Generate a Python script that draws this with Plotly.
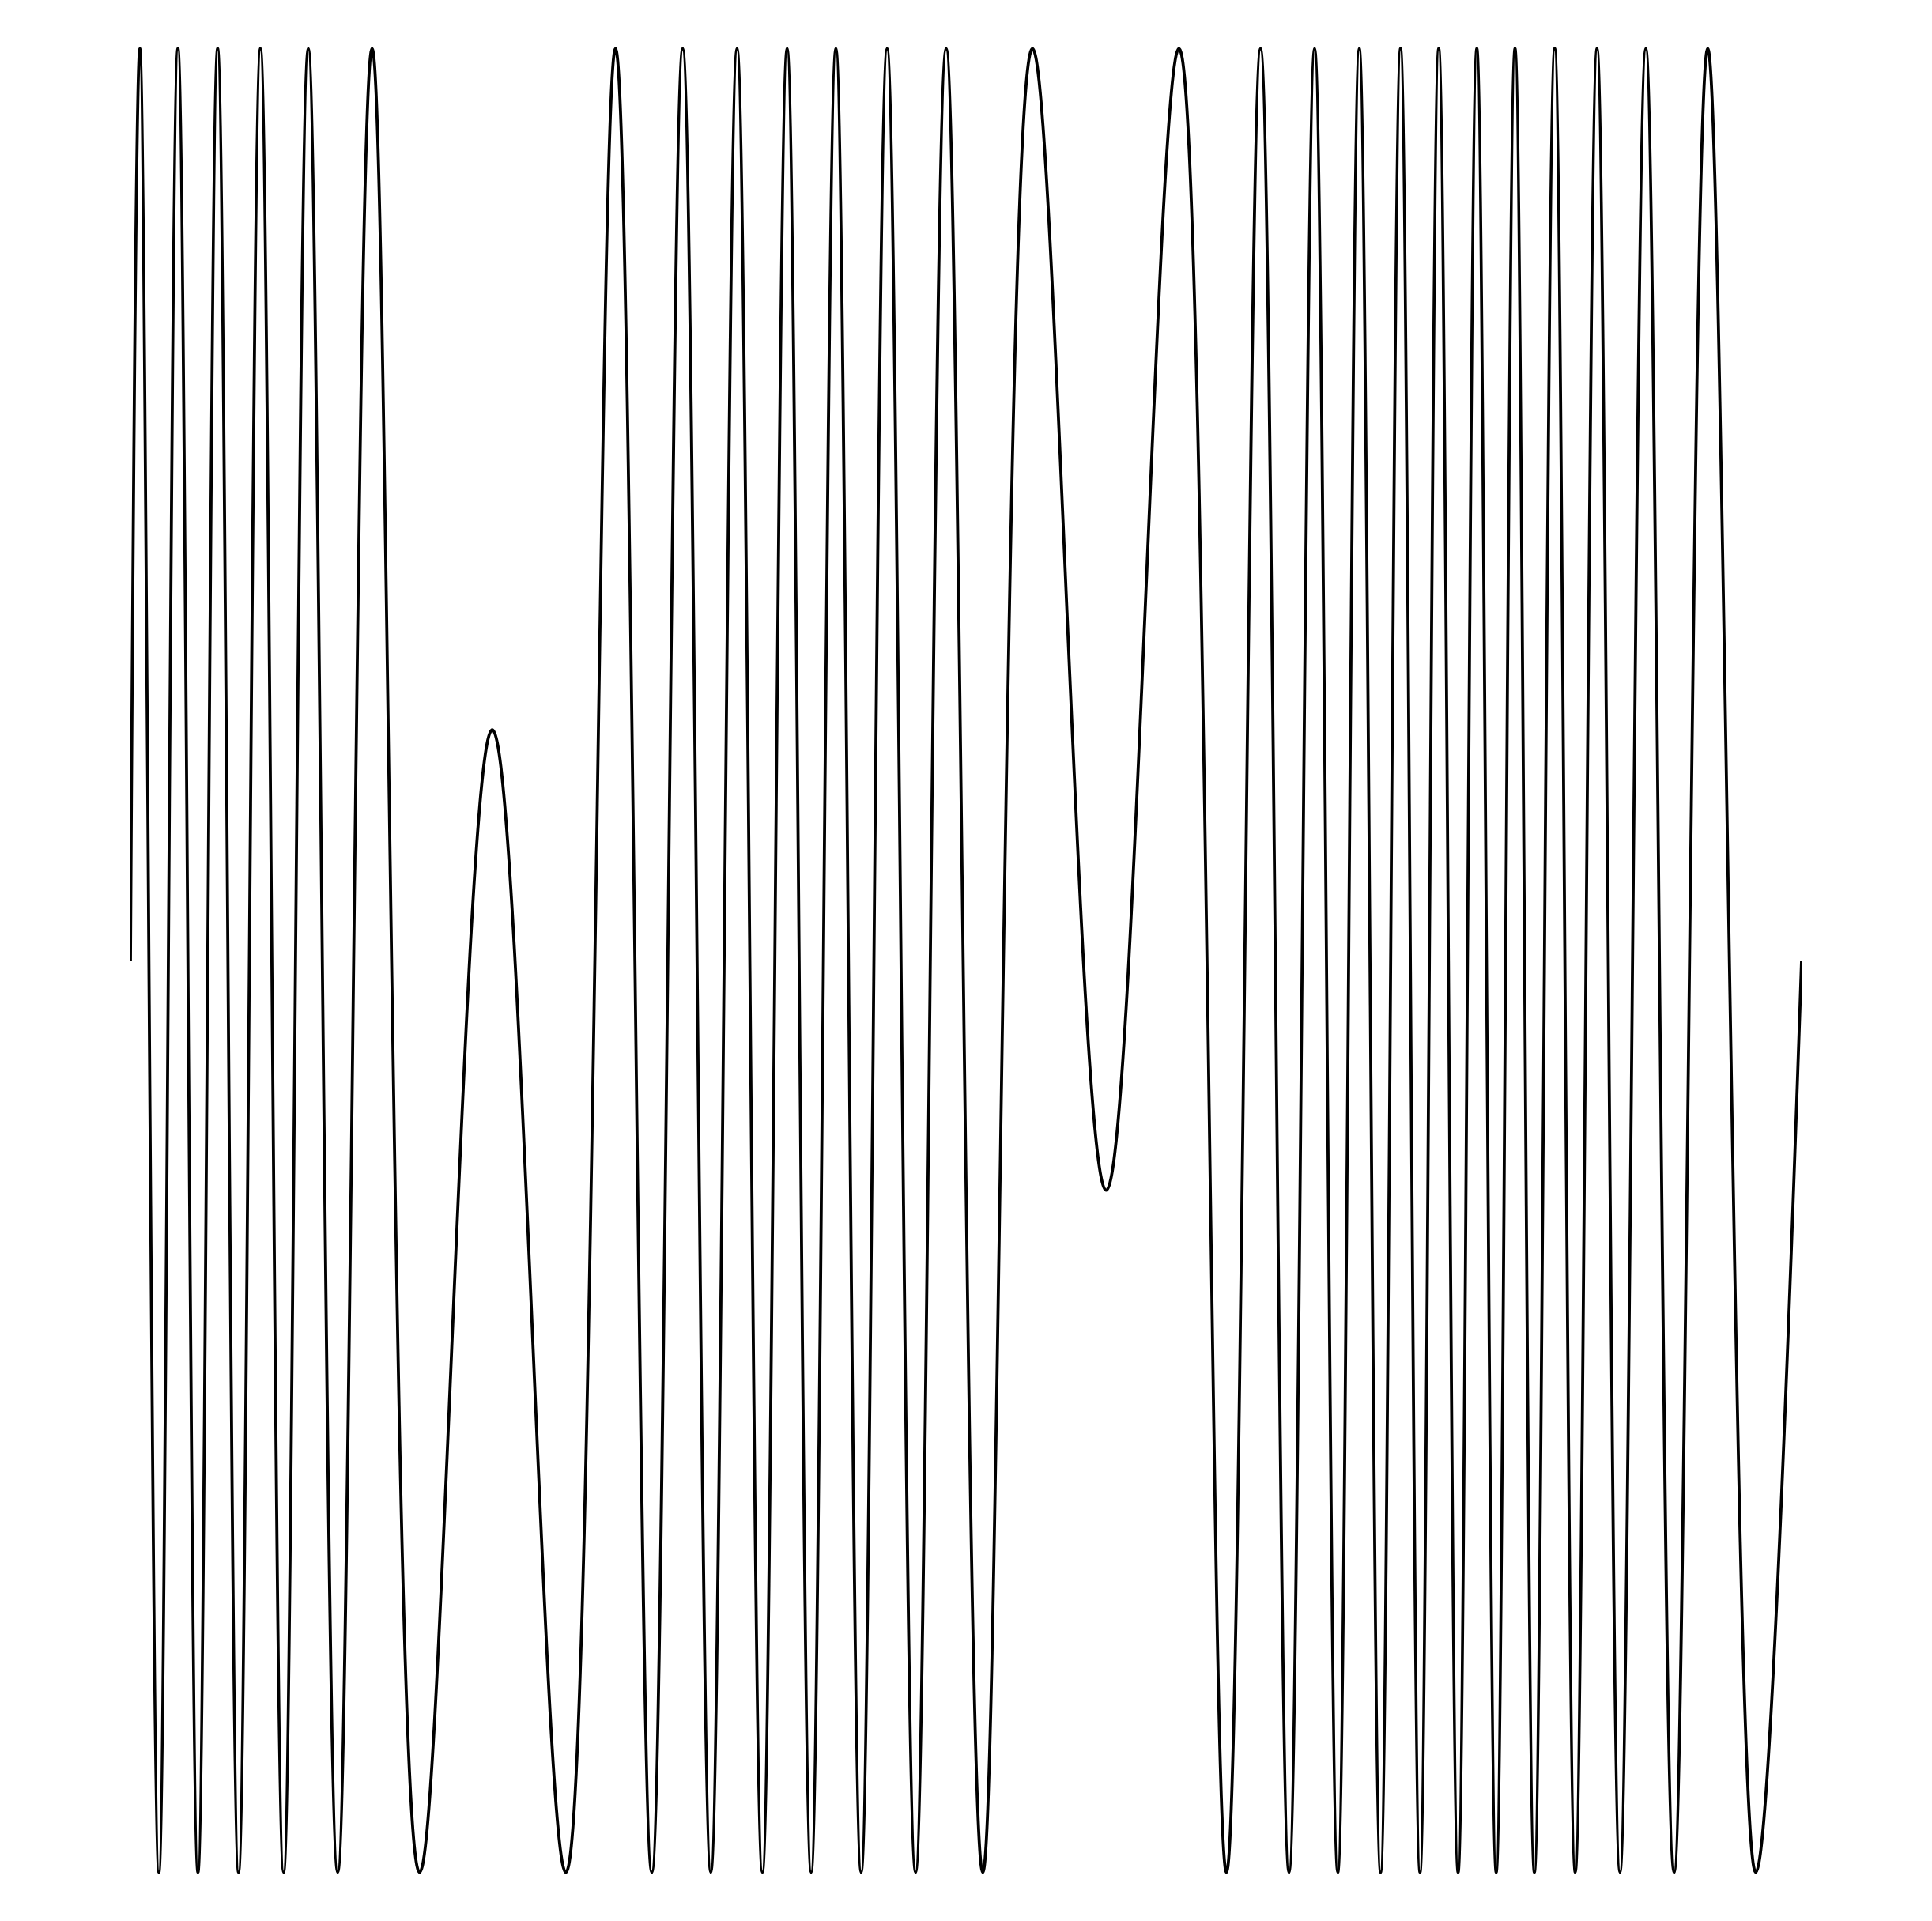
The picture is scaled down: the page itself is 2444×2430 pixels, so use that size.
import plotly.graph_objects as go

# Extremum positions (x in data units 0..10)
peak_x = [0.0563, 0.2843, 0.5218, 0.7781, 1.0643, 1.4461, 2.9026, 3.3046, 3.6301,
          3.9295, 4.2214, 4.5279, 4.8813, 5.3978, 6.2743, 6.7625, 7.0861, 7.3533,
          7.6003, 7.8288, 8.0568, 8.2852, 8.5227, 8.7763, 9.0681, 9.4385]
trough_x = [0.1703, 0.4040, 0.6471, 0.9167, 1.2403, 1.7304, 2.6055, 3.1197, 3.4730,
            3.7815, 4.0733, 4.3727, 4.6982, 5.1003, 6.5586, 6.9328, 7.2247, 7.4806,
            7.7167, 7.9447, 8.1726, 8.4011, 8.6457, 8.9134, 9.2370, 9.7256]
partial_x = [2.1651, 5.8387]
partial_y = [0.253, -0.252]
end_x = [0.0, 10.0]
end_y = [0.0, 0.0]

pts = ([(x, 1.0) for x in peak_x] + [(x, -1.0) for x in trough_x]
       + list(zip(partial_x, partial_y)) + list(zip(end_x, end_y)))
pts.sort()
xs = [p[0] for p in pts]
ys = [p[1] for p in pts]

fig = go.Figure(go.Scatter(x=xs, y=ys, mode="lines",
                           line=dict(color="black", width=3.8, shape="spline", smoothing=1.1),
                           hoverinfo="skip"))
fig.update_layout(
    width=2436, height=2422,
    margin=dict(l=157, r=165, t=0, b=8, pad=0),
    paper_bgcolor="white", plot_bgcolor="white",
    showlegend=False,
    xaxis=dict(range=[0, 10], visible=False, showgrid=False, zeroline=False),
    yaxis=dict(range=[-1.0464, 1.0464], visible=False, showgrid=False, zeroline=False),
)
fig.write_html("out.html")
